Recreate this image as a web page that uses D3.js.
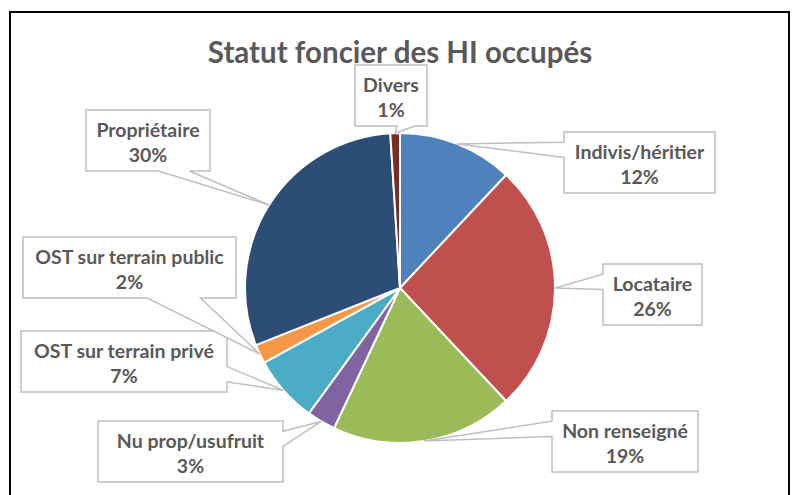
<!DOCTYPE html>
<html>
<head>
<meta charset="utf-8">
<script src="https://cdn.jsdelivr.net/npm/d3@7"></script>
<style>
  body { margin: 0; background: #fff; }
  svg { display: block; }
  text { font-family: Lato, "Open Sans", sans-serif; font-weight: bold; fill: #595959; }
</style>
</head>
<body>
<svg id="chart" width="794" height="495"></svg>
<script>
// data
var categories = ["Indivis/héritier", "Locataire", "Non renseigné", "Nu prop/usufruit",
                  "OST sur terrain privé", "OST sur terrain public", "Propriétaire", "Divers"];
var values = [12, 26, 19, 3, 7, 2, 30, 1];
var colors = ["#4F81BD", "#C0504D", "#9BBB59", "#8064A2", "#4BACC6", "#F79646", "#2C4D75", "#772C2A"];

var title = "Statut foncier des HI occupés";

// callout boxes (x, y, w) in the same order as categories
var boxes = [
    [564, 132, 151],
    [603, 264, 99],
    [552, 411, 146],
    [98, 421, 185],
    [21, 331, 206],
    [23, 237, 213],
    [86, 110, 124],
    [355, 65, 72]
];
var boxH = 61;

var svg = d3.select("#chart");

//outer frame, runs off the bottom of the picture
svg.append("rect")
    .attr("x", 10).attr("y", 12)
    .attr("width", 779).attr("height", 520)
    .attr("fill", "#fff")
    .attr("stroke", "#000")
    .attr("stroke-width", 2);

svg.append("text")
    .attr("x", 400).attr("y", 63)
    .attr("text-anchor", "middle")
    .attr("font-size", 29.5)
    .text(title);

var cx = 400, cy = 288, r = 155;

var pie = d3.pie().sort(null).value(function (d) { return d; });
var arcs = pie(values);
var arc = d3.arc().innerRadius(0).outerRadius(r);

var g = svg.append("g").attr("transform", "translate(" + cx + "," + cy + ")");

g.selectAll("path.slice")
    .data(arcs)
    .enter().append("path")
    .attr("class", "slice")
    .attr("d", arc)
    .attr("fill", function (d, i) { return colors[i]; })
    .attr("stroke", "#fff")
    .attr("stroke-width", 2);

//wedgeRectCallout geometry (same rules as office shapes)
function calloutPath(x, y, w, h, px, py) {
    var l = x, t = y, rr = x + w, b = y + h;
    var hc = x + w / 2, vc = y + h / 2;
    var dxPos = px - hc, dyPos = py - vc;
    var dq = dxPos * h / w;
    var dz = Math.abs(dyPos) - Math.abs(dq);
    var x1 = l + w * (dxPos > 0 ? 7 : 2) / 12, x2 = l + w * (dxPos > 0 ? 10 : 5) / 12;
    var y1 = t + h * (dyPos > 0 ? 7 : 2) / 12, y2 = t + h * (dyPos > 0 ? 10 : 5) / 12;
    var pts = [[l, t]];
    if (dz > 0 && dyPos < 0) pts.push([x1, t], [px, py], [x2, t]);
    pts.push([rr, t]);
    if (dz <= 0 && dxPos > 0) pts.push([rr, y1], [px, py], [rr, y2]);
    pts.push([rr, b]);
    if (dz > 0 && dyPos > 0) pts.push([x2, b], [px, py], [x1, b]);
    pts.push([l, b]);
    if (dz <= 0 && dxPos < 0) pts.push([l, y2], [px, py], [l, y1]);
    return "M" + pts.map(function (p) { return p[0] + "," + p[1]; }).join("L") + "Z";
}

var labels = svg.selectAll("g.callout")
    .data(arcs)
    .enter().append("g")
    .attr("class", "callout");

labels.append("path")
    .attr("d", function (d, i) {
        var a = (d.startAngle + d.endAngle) / 2;
        var px = cx + r * Math.sin(a), py = cy - r * Math.cos(a);
        var bx = boxes[i];
        return calloutPath(bx[0], bx[1], bx[2], boxH, px, py);
    })
    .attr("fill", "#fff")
    .attr("stroke", "#BFBFBF")
    .attr("stroke-width", 1.5);

var total = d3.sum(values);
var lbl = labels.append("text")
    .attr("text-anchor", "middle")
    .attr("font-size", 19.5);

lbl.append("tspan")
    .attr("x", function (d, i) { return boxes[i][0] + boxes[i][2] / 2; })
    .attr("y", function (d, i) { return boxes[i][1] + 27; })
    .text(function (d, i) { return categories[i]; });

lbl.append("tspan")
    .attr("x", function (d, i) { return boxes[i][0] + boxes[i][2] / 2; })
    .attr("y", function (d, i) { return boxes[i][1] + 52; })
    .text(function (d) { return Math.round(d.value / total * 100) + "%"; });
</script>
</body>
</html>
